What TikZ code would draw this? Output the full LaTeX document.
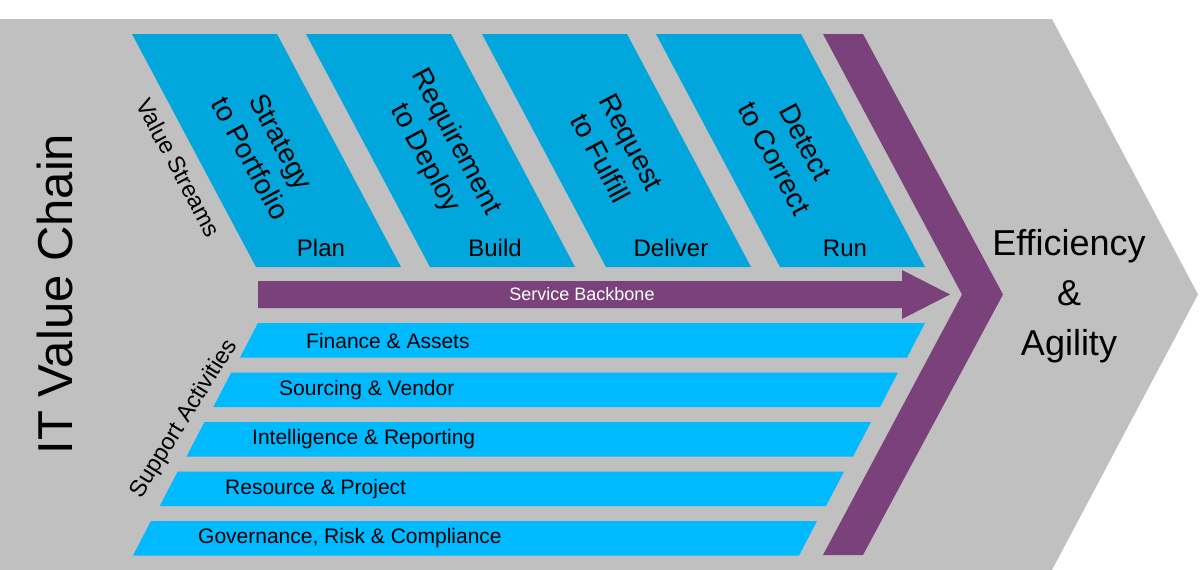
\documentclass[tikz,border=0pt]{standalone}
\usepackage{fontspec}
\setmainfont{Liberation Sans}
\definecolor{bggray}{RGB}{192,192,192}
\definecolor{streamblue}{RGB}{0,166,220}
\definecolor{barblue}{RGB}{0,186,255}
\definecolor{chainpurple}{RGB}{122,65,122}
\begin{document}
\begin{tikzpicture}[x=1pt,y=-1pt,
  stream/.style={fill=streamblue},
  supbar/.style={fill=barblue},
  purp/.style={fill=chainpurple},
  streamtxt/.style={font=\fontsize{28}{35}\selectfont, align=center, rotate=-62, inner sep=0pt},
  phase/.style={font=\fontsize{24}{28}\selectfont, anchor=base, inner sep=0pt},
  bartxt/.style={font=\fontsize{21}{25}\selectfont, anchor=west, inner sep=0pt},
  sidetxt/.style={font=\fontsize{23.5}{27}\selectfont, inner sep=0pt}]
\useasboundingbox (0,0) rectangle (1200,570);
% background chevron
\fill[bggray] (0,19) -- (1052,19) -- (1198,294.5) -- (1052,570) -- (0,570) -- cycle;
% value streams
\foreach \x/\nm/\txt/\ph in {132/s1/{Strategy\\to Portfolio}/Plan, 306/s2/{Requirement\\to Deploy}/Build, 482/s3/{Request\\to Fulfill}/Deliver, 656/s4/{Detect\\to Correct}/Run}{
  \fill[stream] (\x,34) -- ({\x+145},34) -- ({\x+269},267) -- ({\x+124},267) -- cycle;
  \node[streamtxt] (\nm) at ({\x+134},150) {\txt};
  \node[phase] (\nm p) at ({\x+189},256) {\ph};
}
% big purple chevron
\fill[purp] (823,34) -- (863,34) -- (1003,294.5) -- (863,555) -- (823,555) -- (962,294.5) -- cycle;
% service backbone arrow
\fill[purp] (258,281) -- (902,281) -- (902,270) -- (950,294.5) -- (902,319) -- (902,308) -- (258,308) -- cycle;
\node[font=\fontsize{18}{22}\selectfont, text=white, inner sep=0pt] (sb) at (582,294.5) {Service Backbone};
% support activity bars
\foreach \k/\txt in {0/{Finance \& Assets}, 1/{Sourcing \& Vendor}, 2/{Intelligence \& Reporting}, 3/{Resource \& Project}, 4/{Governance, Risk \& Compliance}}{
  \pgfmathsetmacro{\ty}{323+49.5*\k}
  \pgfmathsetmacro{\lx}{258-26.75*\k}
  \pgfmathsetmacro{\rx}{925-27*\k}
  \fill[supbar] (\lx,\ty) -- (\rx,\ty) -- ({\rx-18},{\ty+34.5}) -- ({\lx-18},{\ty+34.5}) -- cycle;
  \node[bartxt] (b\k) at ({306-27*\k},{\ty+17.5}) {\txt};
}
% side labels
\node[sidetxt, rotate=-62] (vs) at (179,168) {Value Streams};
\node[sidetxt, rotate=58] (sa) at (184,419) {Support Activities};
\node[font=\fontsize{49}{56}\selectfont, rotate=90, inner sep=0pt] (itvc) at (54.5,294) {IT Value Chain};
\node[font=\fontsize{36}{50}\selectfont, align=center, inner sep=0pt] (ea) at (1069,296) {Efficiency\\\&\\Agility};
\end{tikzpicture}
\end{document}
